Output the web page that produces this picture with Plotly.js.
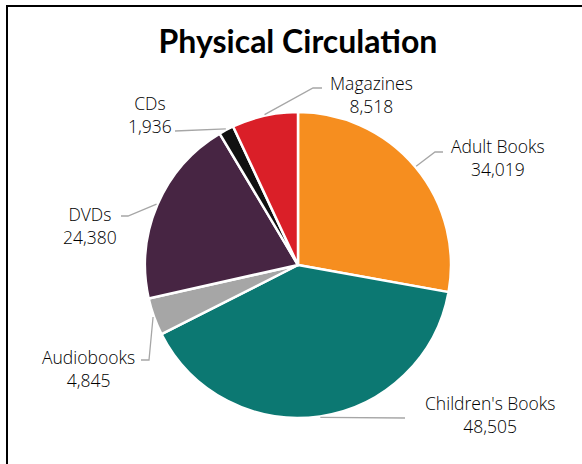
<!DOCTYPE html>
<html>
<head>
<meta charset="utf-8">
<script src="https://cdn.plot.ly/plotly-3.0.1.min.js"></script>
<style>html,body{margin:0;padding:0;background:#fff;}#chart{width:582px;height:464px;}</style>
</head>
<body>
<div id="chart"></div>
<script>
// ---- data ----
const categories = ["Adult Books", "Children's Books", "Audiobooks", "DVDs", "CDs", "Magazines"];
const circulation = [34019, 48505, 4845, 24380, 1936, 8518];
const sliceColors = ["#F68E1F", "#0C7872", "#A6A6A6", "#472543", "#111111", "#DA1F28"];

// ---- layout constants (pixels) ----
const W = 582, H = 464;
const CX = 298, CY = 265, R = 153;
// label block centres and leader elbows / ends (pixels)
const labelLayout = [
  {cx: 498, cy: 157, pts: [[435, 152], [443, 152]]},
  {cx: 490, cy: 414, pts: [[405, 418]]},
  {cx: 88,  cy: 368, pts: [[149, 360], [141, 360]]},
  {cx: 90,  cy: 225, pts: [[128, 216], [121, 216]]},
  {cx: 150, cy: 114, pts: [[175, 131]]},
  {cx: 372, cy: 94,  pts: [[313, 88], [322, 88]]}
];

const px = x => x / W;
const py = y => 1 - y / H;

const total = circulation.reduce((a, b) => a + b, 0);
const annotations = [];
const shapes = [];
let cum = 0;
circulation.forEach((v, i) => {
  const mid = (cum + v / 2) / total * 2 * Math.PI;
  cum += v;
  const sx = CX + (R + 1) * Math.sin(mid);
  const sy = CY - (R + 1) * Math.cos(mid);
  const L = labelLayout[i];
  let path = "M" + px(sx) + "," + py(sy);
  L.pts.forEach(p => { path += " L" + px(p[0]) + "," + py(p[1]); });
  shapes.push({type: "path", xref: "paper", yref: "paper", path: path,
    line: {color: "#A6A6A6", width: 1.3}});
  annotations.push({
    xref: "paper", yref: "paper", x: px(L.cx), y: py(L.cy),
    xanchor: "center", yanchor: "middle", align: "center", showarrow: false,
    text: categories[i] + "<br>" + v.toLocaleString("en-US"),
    font: {family: "'Open Sans', sans-serif", size: 17.5, color: "#000", weight: 300}
  });
});

// border (left + top)
shapes.push({type: "path", xref: "paper", yref: "paper",
  path: "M" + px(7) + "," + py(H + 5) + " L" + px(7) + "," + py(6) + " L" + px(W + 5) + "," + py(6),
  line: {color: "#000", width: 2}});

const trace = {
  type: "pie",
  labels: categories,
  values: circulation,
  sort: false,
  direction: "clockwise",
  rotation: 0,
  textinfo: "none",
  hoverinfo: "label+value",
  marker: {colors: sliceColors, line: {color: "#ffffff", width: 2.5}},
  domain: {x: [px(CX - R), px(CX + R)], y: [py(CY + R), py(CY - R)]},
  showlegend: false
};

const layout = {
  width: W, height: H,
  margin: {l: 0, r: 0, t: 0, b: 0},
  paper_bgcolor: "#fff",
  title: {text: "<b>Physical Circulation</b>", x: 0.512, xanchor: "center", y: py(42), yanchor: "middle",
    font: {family: "Lato, sans-serif", size: 32, color: "#000", weight: 900}},
  annotations: annotations,
  shapes: shapes
};

Plotly.newPlot("chart", [trace], layout, {displayModeBar: false, staticPlot: true});
</script>
</body>
</html>
